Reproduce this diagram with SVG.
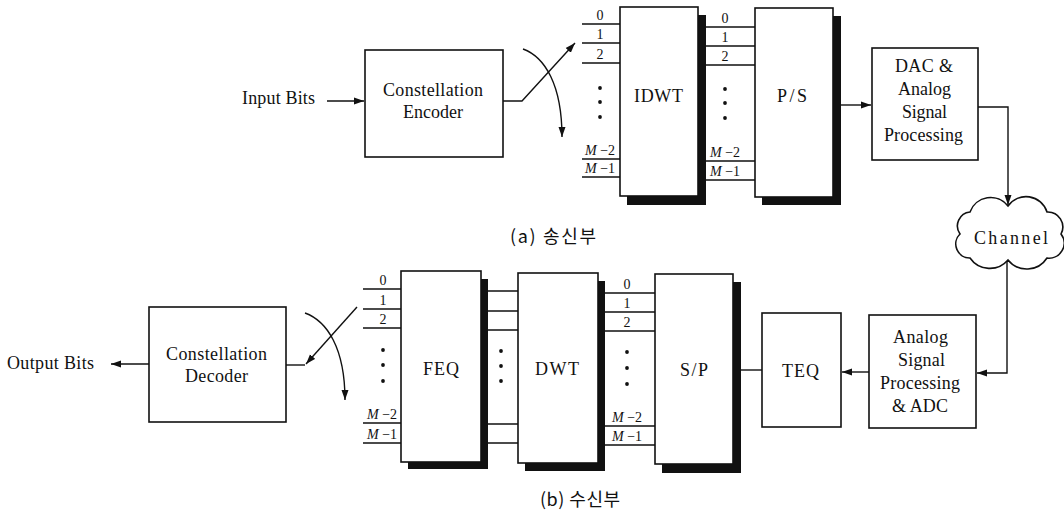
<svg xmlns="http://www.w3.org/2000/svg" width="1064" height="515" viewBox="0 0 1064 515">
<defs>
<style>
.box{fill:#fff;stroke:#111;stroke-width:1.6}
.sh{fill:#111}
.ln{fill:none;stroke:#111;stroke-width:1.4}
.t{font-family:"Liberation Serif",serif;font-size:18px;fill:#111}
.l{font-family:"Liberation Serif",serif;font-size:14px;fill:#111;text-anchor:middle}
.i{font-style:italic}
.cap{font-family:"Noto Sans CJK KR","Noto Sans",sans-serif;font-size:18px;fill:#111}
.dot{fill:#111}
</style>
<marker id="ah" markerUnits="userSpaceOnUse" markerWidth="11" markerHeight="8" refX="10" refY="4" orient="auto">
<path d="M0,0.5 L10,4 L0,7.5 z" fill="#111"/>
</marker>
</defs>

<g id="connectors">
<path class="ln" d="M327,101 L364,101" marker-end="url(#ah)"/>
<path class="ln" d="M503,101 L522,101 L575,43" marker-end="url(#ah)"/>
<path class="ln" d="M523,49 C545,57 562,85 562,137" marker-end="url(#ah)"/>
<path class="ln" d="M582,24 H620 M582,43 H620 M582,63 H620 M582,159 H620 M582,177 H620"/>
<path class="ln" d="M706,27 H755 M706,46 H755 M706,65 H755 M706,161 H755 M706,180 H755"/>
<path class="ln" d="M841,105 L871,105" marker-end="url(#ah)"/>
<path class="ln" d="M978,107 L1008,107 L1008,205" marker-end="url(#ah)"/>
<path class="ln" d="M1007,261 L1007,373 L977,373" marker-end="url(#ah)"/>
<path class="ln" d="M869,372 L842,372" marker-end="url(#ah)"/>
<path class="ln" d="M762,370 L741,370"/>
<path class="ln" d="M363,289 H401 M363,309 H401 M363,328 H401 M363,423 H401 M363,443 H401"/>
<path class="ln" d="M488,291 H518 M488,311 H518 M488,330 H518 M488,424 H518 M488,443 H518"/>
<path class="ln" d="M605,293 H655 M605,312 H655 M605,331 H655 M605,426 H655 M605,445 H655"/>
<path class="ln" d="M286,365 L305,365"/>
<path class="ln" d="M357,307 L306,364" marker-end="url(#ah)"/>
<path class="ln" d="M305,313 C327,321 345,348 345,400" marker-end="url(#ah)"/>
<path class="ln" d="M149,364 L111,364" marker-end="url(#ah)"/>
</g>

<g id="input-bits">
<text class="t" x="242" y="104" textLength="73" lengthAdjust="spacing">Input Bits</text>
</g>

<g id="constellation-encoder">
<rect class="box" x="365" y="50" width="138" height="107"/>
<text class="t" x="383" y="96" textLength="100" lengthAdjust="spacing">Constellation</text>
<text class="t" x="403" y="118" textLength="60" lengthAdjust="spacing">Encoder</text>
</g>

<g id="idwt-inputs">
<text class="l" x="600" y="20">0</text>
<text class="l" x="600" y="39">1</text>
<text class="l" x="600" y="59">2</text>
<circle class="dot" cx="600" cy="88" r="1.9"/>
<circle class="dot" cx="600" cy="102" r="1.9"/>
<circle class="dot" cx="600" cy="117" r="1.9"/>
<text class="l" x="600" y="155"><tspan class="i">M</tspan> −2</text>
<text class="l" x="600" y="173"><tspan class="i">M</tspan> −1</text>
</g>

<g id="idwt">
<rect class="sh" x="627" y="15" width="79" height="190"/>
<rect class="box" x="620" y="7" width="78" height="189"/>
<text class="t" x="634" y="102" textLength="49" lengthAdjust="spacing">IDWT</text>
</g>

<g id="ps-inputs">
<text class="l" x="725" y="23">0</text>
<text class="l" x="725" y="42">1</text>
<text class="l" x="725" y="61">2</text>
<circle class="dot" cx="725" cy="89" r="1.9"/>
<circle class="dot" cx="725" cy="103" r="1.9"/>
<circle class="dot" cx="725" cy="118" r="1.9"/>
<text class="l" x="725" y="157"><tspan class="i">M</tspan> −2</text>
<text class="l" x="725" y="176"><tspan class="i">M</tspan> −1</text>
</g>

<g id="ps">
<rect class="sh" x="762" y="16" width="79" height="189"/>
<rect class="box" x="755" y="8" width="78" height="189"/>
<text class="t" x="777" y="102" textLength="30" lengthAdjust="spacing">P/S</text>
</g>

<g id="dac">
<rect class="box" x="872" y="48" width="106" height="112"/>
<text class="t" x="895" y="72" textLength="58" lengthAdjust="spacing">DAC &amp;</text>
<text class="t" x="898" y="95" textLength="53" lengthAdjust="spacing">Analog</text>
<text class="t" x="902" y="118" textLength="45" lengthAdjust="spacing">Signal</text>
<text class="t" x="884" y="141" textLength="79" lengthAdjust="spacing">Processing</text>
</g>

<g id="channel">
<path class="box" d="M960,234 A14,14 0 0 1 970,212 A22,22 0 0 1 1008,206 A22,22 0 0 1 1047,212 A15,15 0 0 1 1061,234 A15,15 0 0 1 1047,258 A24,24 0 0 1 1008,260 A24,24 0 0 1 970,258 A14,14 0 0 1 960,234 Z"/>
<text class="t" x="974" y="244" textLength="74" lengthAdjust="spacing">Channel</text>
</g>

<g id="caption-a">
<text class="cap" x="510" y="243" textLength="86" lengthAdjust="spacing">(a) 송신부</text>
</g>

<g id="output-bits">
<text class="t" x="7" y="369" textLength="87" lengthAdjust="spacing">Output Bits</text>
</g>

<g id="constellation-decoder">
<rect class="box" x="149" y="307" width="137" height="115"/>
<text class="t" x="166" y="360" textLength="101" lengthAdjust="spacing">Constellation</text>
<text class="t" x="185" y="382" textLength="63" lengthAdjust="spacing">Decoder</text>
</g>

<g id="feq-inputs">
<text class="l" x="383" y="285">0</text>
<text class="l" x="383" y="305">1</text>
<text class="l" x="383" y="324">2</text>
<circle class="dot" cx="383" cy="350" r="1.9"/>
<circle class="dot" cx="383" cy="365" r="1.9"/>
<circle class="dot" cx="383" cy="381" r="1.9"/>
<text class="l" x="382" y="419"><tspan class="i">M</tspan> −2</text>
<text class="l" x="382" y="439"><tspan class="i">M</tspan> −1</text>
</g>

<g id="feq">
<rect class="sh" x="408" y="279" width="80" height="190"/>
<rect class="box" x="401" y="271" width="80" height="191"/>
<text class="t" x="423" y="375" textLength="36" lengthAdjust="spacing">FEQ</text>
</g>

<g id="feq-dwt-dots">
<circle class="dot" cx="501" cy="351" r="1.9"/>
<circle class="dot" cx="501" cy="366" r="1.9"/>
<circle class="dot" cx="501" cy="381" r="1.9"/>
</g>

<g id="dwt">
<rect class="sh" x="525" y="281" width="80" height="190"/>
<rect class="box" x="518" y="273" width="80" height="190"/>
<text class="t" x="535" y="375" textLength="44" lengthAdjust="spacing">DWT</text>
</g>

<g id="sp-inputs">
<text class="l" x="627" y="289">0</text>
<text class="l" x="627" y="308">1</text>
<text class="l" x="627" y="327">2</text>
<circle class="dot" cx="627" cy="352" r="1.9"/>
<circle class="dot" cx="627" cy="368" r="1.9"/>
<circle class="dot" cx="627" cy="384" r="1.9"/>
<text class="l" x="627" y="422"><tspan class="i">M</tspan> −2</text>
<text class="l" x="627" y="441"><tspan class="i">M</tspan> −1</text>
</g>

<g id="sp">
<rect class="sh" x="662" y="282" width="79" height="191"/>
<rect class="box" x="655" y="274" width="78" height="190"/>
<text class="t" x="680" y="376" textLength="28" lengthAdjust="spacing">S/P</text>
</g>

<g id="teq">
<rect class="box" x="762" y="313" width="79" height="114"/>
<text class="t" x="782" y="377" textLength="37" lengthAdjust="spacing">TEQ</text>
</g>

<g id="analog-adc">
<rect class="box" x="869" y="315" width="107" height="113"/>
<text class="t" x="893" y="343" textLength="55" lengthAdjust="spacing">Analog</text>
<text class="t" x="898" y="366" textLength="47" lengthAdjust="spacing">Signal</text>
<text class="t" x="880" y="389" textLength="80" lengthAdjust="spacing">Processing</text>
<text class="t" x="892" y="412" textLength="56" lengthAdjust="spacing">&amp; ADC</text>
</g>

<g id="caption-b">
<text class="cap" x="540" y="506" textLength="80" lengthAdjust="spacing">(b) 수신부</text>
</g>
</svg>
